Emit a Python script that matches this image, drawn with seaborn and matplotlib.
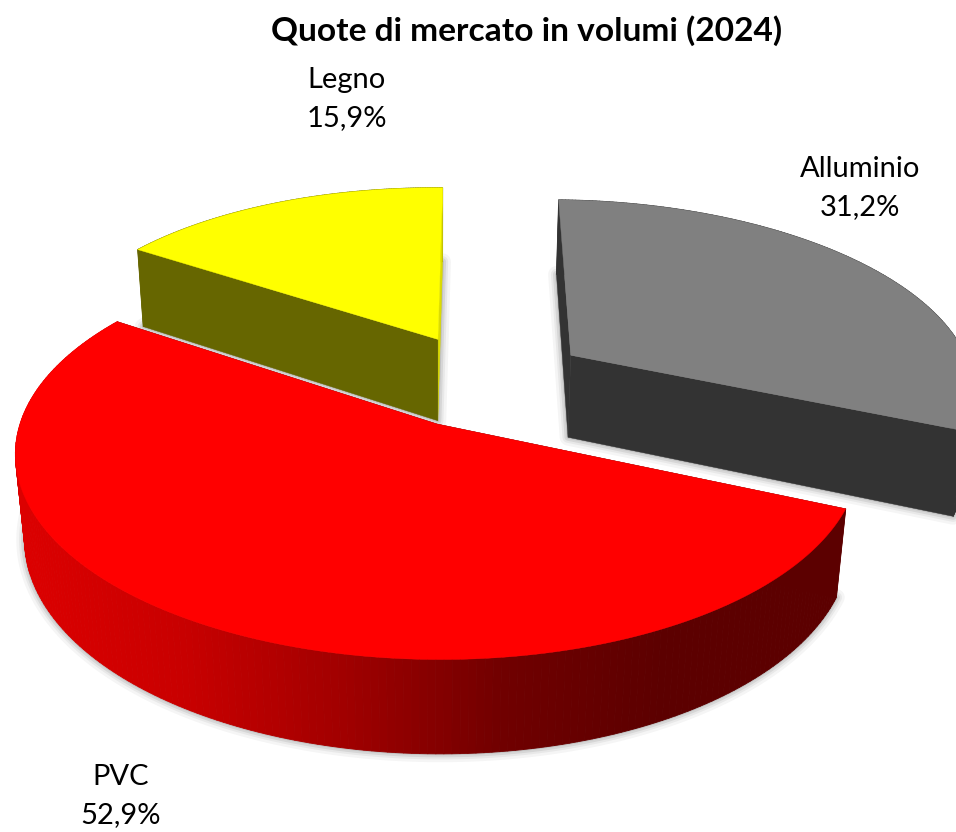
import numpy as np
import matplotlib
matplotlib.use("Agg")
import matplotlib.pyplot as plt
from matplotlib.collections import PolyCollection
from matplotlib.patches import Polygon
import seaborn as sns

# ---- data ----
categories = ["PVC", "Alluminio", "Legno"]
shares = [52.9, 31.2, 15.9]
share_labels = ["52,9%", "31,2%", "15,9%"]
title_text = "Quote di mercato in volumi (2024)"

# ---- styles ----
top_colors = ["#FF0000", "#808080", "#FFFF00"]
start_angle = 146.0
explode = 0.258
label_xy = [(121, 796), (860, 188), (347, 99)]
radial_colors = {"PVC": ("#5c0000", "#5c0000"),
                 "Alluminio": ("#333333", "#333333"),
                 "Legno": ("#666600", "#dcdc00")}
rim_palette = sns.blend_palette(["#dc0000", "#c80000", "#a00000", "#700000", "#5c0000"], 256)

sns.set_theme(style="white")
plt.rcParams["font.family"] = ["Lato", "DejaVu Sans"]

fig = plt.figure(figsize=(9.56, 8.32), dpi=100)
ax = fig.add_axes([0, 0, 1, 1])
ax.set_xlim(0, 956)
ax.set_ylim(832, 0)
ax.axis("off")

# perspective view of the pie
CX, CY, B, A, K, M, D, SK = 437.0, 424.0, 417.0, 199.0, 0.155, 0.022, 87.0, -3.0


def project(u, v, z=0.0):
    w = 1 + K * v + M * z
    return CX + (B * u + SK * v) / w, CY + (-A * v + D * z) / w


def direction(deg):
    return np.cos(np.radians(deg)), np.sin(np.radians(deg))


fractions = np.array(shares) / sum(shares)
ends = start_angle + np.cumsum(fractions) * 360
starts = ends - fractions * 360
mids = (starts + ends) / 2
anchor = direction(mids[0])


def slice_outline(i, z):
    a = np.linspace(starts[i], ends[i], 200)
    ox = explode * (direction(mids[i])[0] - anchor[0])
    oy = explode * (direction(mids[i])[1] - anchor[1])
    us = np.r_[ox, ox + np.cos(np.radians(a))]
    vs = np.r_[oy, oy + np.sin(np.radians(a))]
    x, y = project(us, vs, z)
    return np.column_stack([x, y])


order = [1, 2, 0]  # back to front
for i in order:
    bottom = slice_outline(i, 1.0)
    top = slice_outline(i, 0.0)
    # soft shadow
    for lw, al in [(12, 0.06), (8, 0.08), (5, 0.12), (2, 0.15)]:
        ax.add_patch(Polygon(bottom, closed=True, fc="#555555", ec="#555555", lw=lw,
                             alpha=al, joinstyle="round", zorder=1 + order.index(i)))
    z0 = 2 + order.index(i) * 2
    # outer rim
    quads, cols = [], []
    for j in range(1, len(top) - 1):
        quads.append([top[j], top[j + 1], bottom[j + 1], bottom[j]])
        if categories[i] == "PVC":
            t = np.clip((top[j][0] - 20) / 640, 0, 1)
            cols.append(rim_palette[int(t * 255)])
        else:
            cols.append(radial_colors[categories[i]][0])
    ax.add_collection(PolyCollection(quads, facecolors=cols, edgecolors=cols, lw=0.6, zorder=z0))
    # radial walls
    c_end, c_start = radial_colors[categories[i]]
    ax.add_patch(Polygon([top[0], top[1], bottom[1], bottom[0]], fc=c_start, ec=c_start, lw=0.3, zorder=z0))
    ax.add_patch(Polygon([top[0], top[-1], bottom[-1], bottom[0]], fc=c_end, ec=c_end, lw=0.3, zorder=z0))
    # top face
    ax.add_patch(Polygon(top, closed=True, fc=top_colors[i], ec=top_colors[i], lw=0.3, zorder=z0 + 1))

for i, (x, y) in enumerate(label_xy):
    ax.text(x, y, f"{categories[i]}\n{share_labels[i]}", ha="center", va="center",
            fontsize=21, color="#000000", linespacing=1.6, zorder=20)

ax.text(527, 31, title_text, ha="center", va="center", fontsize=24.1,
        fontweight="bold", color="#000000", zorder=20)

fig.savefig("out.png", dpi=100)
